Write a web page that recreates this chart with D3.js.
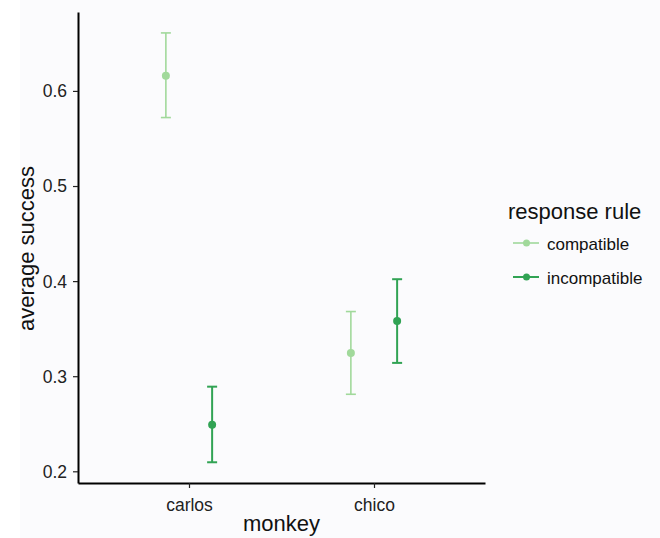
<!DOCTYPE html>
<html>
<head>
<meta charset="utf-8">
<script src="https://cdn.jsdelivr.net/npm/d3@7"></script>
<style>
  body { margin: 0; background: #fff; }
  svg { font-family: "Liberation Sans", Arial, sans-serif; }
</style>
</head>
<body>
<div id="chart"></div>
<script>
// Average success by monkey and response rule (mean with error bars)
const monkeys = ['carlos', 'chico'];
const rules = ['compatible', 'incompatible'];
const ruleColors = ['#a1d99b', '#31a354'];
const means = {
    compatible:   [0.616, 0.3245],
    incompatible: [0.249, 0.358]
};
const lowers = {
    compatible:   [0.572, 0.281],
    incompatible: [0.2095, 0.314]
};
const uppers = {
    compatible:   [0.661, 0.368],
    incompatible: [0.289, 0.402]
};
const yTicks = [0.2, 0.3, 0.4, 0.5, 0.6];

const W = 660, H = 538;
const margin = {top: 12, right: 175, bottom: 55, left: 78};
const width = W - margin.left - margin.right;
const height = H - margin.top - margin.bottom;

const svg = d3.select('#chart')
    .append('svg')
    .attr('width', W)
    .attr('height', H);

svg.append('rect')
    .attr('x', 20).attr('y', 0)
    .attr('width', W - 20).attr('height', H)
    .attr('fill', '#fbfbfd');

const g = svg.append('g')
    .attr('transform', `translate(${margin.left},${margin.top})`);

// discrete x like ggplot: positions 1..n with 0.6 padding
const xScale = d3.scaleLinear()
    .domain([0.4, monkeys.length + 0.6])
    .range([0, width]);

const yScale = d3.scaleLinear()
    .domain([0.1877, 0.683])
    .range([height, 0]);

const dodge = 0.125;
const color = d3.scaleOrdinal().domain(rules).range(ruleColors);

// Axes
const xAxis = g.append('g')
    .attr('transform', `translate(0,${height})`)
    .call(d3.axisBottom(xScale)
        .tickValues(monkeys.map((m, i) => i + 1))
        .tickFormat((d, i) => monkeys[i])
        .tickSizeInner(5)
        .tickSizeOuter(0));

const yAxis = g.append('g')
    .call(d3.axisLeft(yScale)
        .tickValues(yTicks)
        .tickFormat(d3.format('.1f'))
        .tickSizeInner(5)
        .tickSizeOuter(0));

[xAxis, yAxis].forEach(ax => {
    ax.select('.domain').attr('stroke', '#000').attr('stroke-width', 2);
    ax.selectAll('.tick line').attr('stroke', '#222').attr('stroke-width', 1.2);
    ax.selectAll('.tick text')
        .attr('fill', '#222')
        .style('font-size', '17.5px');
});
xAxis.selectAll('.tick text').attr('y', 12).attr('dy', '0.9em');
yAxis.selectAll('.tick text').attr('x', -11).attr('dy', '0.34em');

svg.append('text')
    .attr('x', margin.left + xScale(1.5))
    .attr('y', 531)
    .attr('text-anchor', 'middle')
    .style('font-size', '22px')
    .attr('fill', '#111')
    .text('monkey');

svg.append('text')
    .attr('transform', `translate(34, ${margin.top + height / 2 + 1}) rotate(-90)`)
    .attr('text-anchor', 'middle')
    .style('font-size', '22px')
    .attr('fill', '#111')
    .text('average success');

// Error bars and points
rules.forEach((rule, r) => {
    const off = (r === 0 ? -1 : 1) * dodge;
    const sw = r === 0 ? 1.6 : 2;
    monkeys.forEach((m, i) => {
        const cx = xScale(i + 1 + off);
        const bar = g.append('g');
        bar.append('line')
            .attr('x1', cx).attr('x2', cx)
            .attr('y1', yScale(lowers[rule][i]))
            .attr('y2', yScale(uppers[rule][i]))
            .attr('stroke', color(rule))
            .attr('stroke-width', sw);
        [lowers[rule][i], uppers[rule][i]].forEach(v => {
            bar.append('line')
                .attr('x1', cx - 5).attr('x2', cx + 5)
                .attr('y1', yScale(v)).attr('y2', yScale(v))
                .attr('stroke', color(rule))
                .attr('stroke-width', sw);
        });
        bar.append('circle')
            .attr('cx', cx)
            .attr('cy', yScale(means[rule][i]))
            .attr('r', 4)
            .attr('fill', color(rule));
    });
});

// Legend
const legend = svg.append('g')
    .attr('transform', 'translate(508, 219)');

legend.append('text')
    .attr('x', 0).attr('y', 0)
    .style('font-size', '22px')
    .attr('fill', '#111')
    .text('response rule');

rules.forEach((rule, r) => {
    const ly = 24 + r * 34;
    legend.append('line')
        .attr('x1', 5).attr('x2', 31)
        .attr('y1', ly).attr('y2', ly)
        .attr('stroke', color(rule))
        .attr('stroke-width', r === 0 ? 1.6 : 2);
    legend.append('circle')
        .attr('cx', 18.5).attr('cy', ly)
        .attr('r', 3.5)
        .attr('fill', color(rule));
    legend.append('text')
        .attr('x', 39).attr('y', ly + 7)
        .style('font-size', '17px')
        .attr('fill', '#111')
        .text(rule);
});
</script>
</body>
</html>
